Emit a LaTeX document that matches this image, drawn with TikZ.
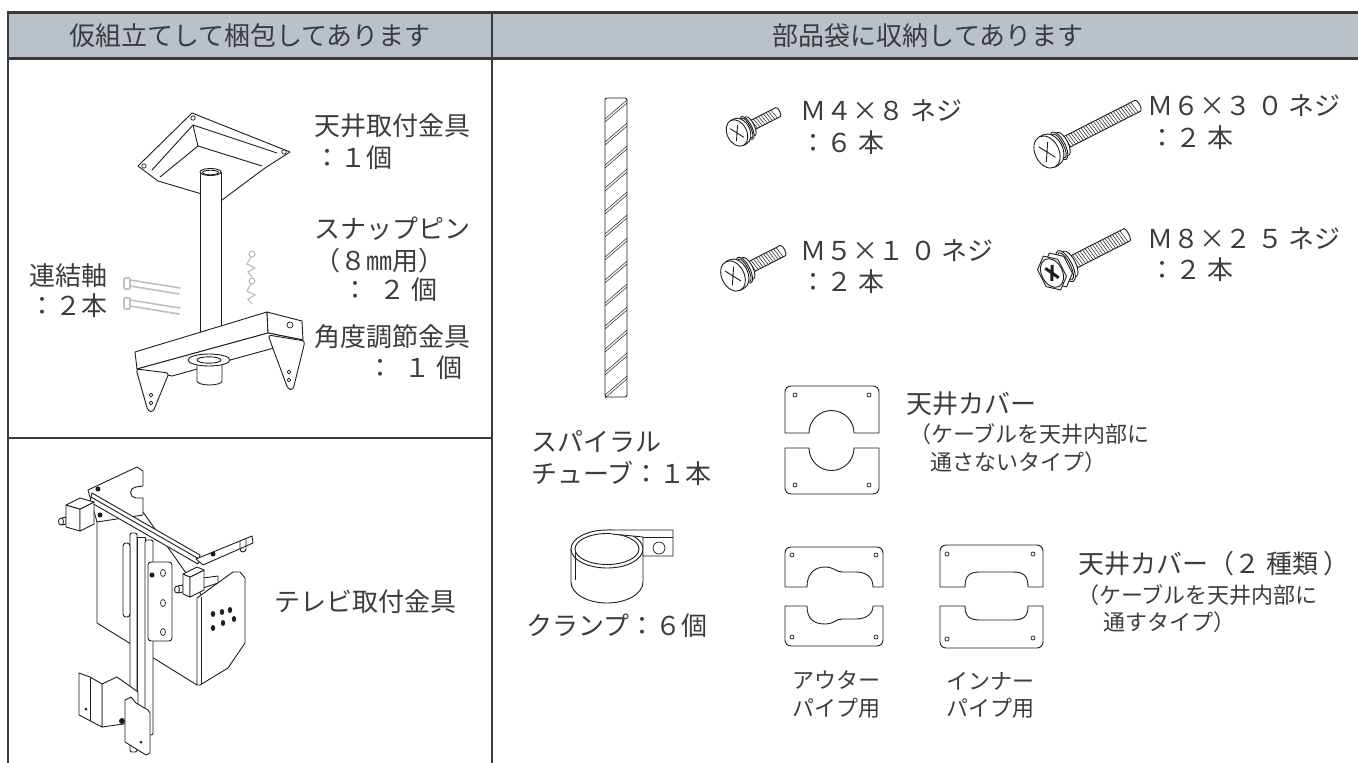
\documentclass[tikz,border=0pt]{standalone}
\usepackage{fontspec}
\setmainfont{Noto Sans CJK JP}
\definecolor{headfill}{HTML}{B9C1CA}
\definecolor{rulegray}{HTML}{3A3A3A}
\definecolor{ink}{HTML}{3C3C3C}
\definecolor{linework}{HTML}{1E1E1E}

% screw: x, y, head radius, length, type (0 = pan head, 1 = hex head)
\newcommand{\screwpic}[5]{%
  \begin{scope}[shift={(#1,#2)},rotate=27]
    \pgfmathsetmacro{\hr}{#3}
    \pgfmathsetmacro{\sw}{0.36*#3}
    \pgfmathsetmacro{\ss}{1.1*#3}
    \pgfmathtruncatemacro{\nt}{(#4-\ss)/2.8-1}
    \draw[part,fill=white] (\ss,-\sw) -- (#4,-\sw) arc[start angle=-90,end angle=90,x radius=2,y radius=\sw] -- (\ss,\sw) -- cycle;
    \foreach \k in {1,...,\nt} \draw[thread] ({\ss+\k*2.8},-\sw) -- ++(2.2,{2*\sw});
    \draw[part,fill=white] ({1.05*\hr},0) ellipse[x radius={0.3*\hr},y radius={0.75*\hr}];
    \draw[part,fill=white] ({0.8*\hr},0) ellipse[x radius={0.35*\hr},y radius={0.9*\hr}];
    \draw[part] ({0.8*\hr},0) ellipse[x radius={0.25*\hr},y radius={0.78*\hr}];
    \ifnum#5=0
      \draw[part,fill=white] (0,-\hr) -- ({0.25*\hr},-\hr) arc[start angle=-90,end angle=90,x radius={0.7*\hr},y radius=\hr] -- (0,\hr) -- cycle;
      \draw[part,fill=white] (0,0) ellipse[x radius={0.7*\hr},y radius=\hr];
      \draw[part] ({-0.3*\hr},{-0.5*\hr}) -- ({0.3*\hr},{0.5*\hr}) ({-0.3*\hr},{0.5*\hr}) -- ({0.3*\hr},{-0.5*\hr});
    \else
      \foreach \hx in {0.35,0} {
        \draw[part,fill=white] ({(\hx+0.6)*\hr},{0.5*\hr}) -- ({\hx*\hr},\hr) -- ({(\hx-0.6)*\hr},{0.5*\hr}) -- ({(\hx-0.6)*\hr},{-0.5*\hr}) -- ({\hx*\hr},-\hr) -- ({(\hx+0.6)*\hr},{-0.5*\hr}) -- cycle;
      }
      \draw[part] (0,0) ellipse[x radius={0.55*\hr},y radius={0.8*\hr}];
      \draw[linework,line width=3pt] ({-0.2*\hr},{-0.38*\hr}) -- ({0.2*\hr},{0.38*\hr}) ({-0.2*\hr},{0.38*\hr}) -- ({0.2*\hr},{-0.38*\hr});
    \fi
  \end{scope}}

\begin{document}
\begin{tikzpicture}
  [x=1pt,y=-1pt,
   rule/.style={draw=rulegray,line width=2pt},
   headrule/.style={draw=rulegray,line width=3pt},
   head/.style={inner sep=0pt,text=ink,font=\fontsize{26}{30}\selectfont},
   lbl/.style={anchor=west,inner sep=0pt,text=ink,font=\fontsize{26}{30}\selectfont},
   note/.style={lbl,font=\fontsize{22}{26}\selectfont},
   part/.style={draw=linework,line width=0.9pt,line join=round},
   thread/.style={draw=linework,line width=0.5pt},
   faded/.style={draw=gray!50,line width=1.6pt,line cap=round},
   hole/.style={draw=linework,line width=0.7pt,fill=white}]
  \useasboundingbox (0,0) rectangle (1358,763);

  % table
  \fill[headfill] (8,12) rectangle (1358,58);
  \draw[headrule] (7,12) -- (1358,12);
  \draw[headrule] (7,58) -- (1358,58);
  \draw[rule] (8,12) -- (8,763);
  \draw[rule] (492,12) -- (492,763);
  \draw[rule] (8,438) -- (492,438);
  \node[head] (packed) at (250,36) {仮組立てして梱包してあります};
  \node[head] (bagged) at (928,36) {部品袋に収納してあります};

  % ceiling bracket
  \draw[part,fill=white] (192,113) -- (290,152) -- (265,168) -- (222,200) -- (158,181) -- (138,166) -- cycle;
  \draw[part] (152,170) -- (193,125) -- (277,153);
  \draw[part] (193,125) -- (198,146) -- (262,166);
  \draw[part] (198,146) -- (160,177);
  \foreach \p in {(193,118),(284,152),(144,166)} \draw[hole] \p circle[radius=2.2];
  \draw[part,fill=white] (200,172) -- (200,335) -- (221,335) -- (221,172);
  \draw[part,fill=white] (210.5,172) ellipse[x radius=10.5,y radius=3.5];
  \draw[part] (210.5,172.5) ellipse[x radius=8,y radius=2.3];
  % angle bracket
  \draw[part,fill=white] (135,352) -- (267,312) -- (268,333) -- (137,369) -- cycle;
  \draw[part,fill=white] (267,312) -- (302,321) -- (303,340) -- (268,333) -- cycle;
  \draw[part,fill=white] (137,369) -- (268,333) -- (303,340) -- (172,376) -- cycle;
  \draw[hole] (290,325) circle[radius=3];
  \draw[part,fill=white,rounded corners=3] (136,369) -- (169,373) -- (153,412) -- (148,411) -- cycle;
  \draw[part,fill=white,rounded corners=3] (268,335) -- (305,341) -- (293,390) -- (288,389) -- cycle;
  \foreach \p in {(151,395),(151,403),(289,372),(289,380)} \draw[hole] \p circle[radius=1.8];
  \draw[part,fill=white] (197,360) -- (197,381) arc[start angle=180,end angle=0,x radius=12.5,y radius=4] -- (222,360);
  \draw[part,fill=white] (209,360) ellipse[x radius=21,y radius=6];
  \draw[part] (209,360) ellipse[x radius=12,y radius=3.2];
  % pins and snap pins
  \foreach \dy in {0,20} {
    \draw[faded] (130,{280+\dy}) -- (180,{288+\dy});
    \draw[faded] (130,{286+\dy}) -- (179,{294+\dy});
    \draw[faded,rounded corners=1] (124,{278+\dy}) rectangle (130,{289+\dy});
  }
  \foreach \dy in {0,27} {
    \draw[faded,line width=1.2pt] (252,{254+\dy}) circle[radius=3];
    \draw[faded,line width=1.2pt] (251,{257+\dy}) -- (247,{264+\dy}) -- (255,{268+\dy}) -- (248,{272+\dy}) -- (252,{277+\dy});
  }
  \node[lbl] (mountlbl) at (314,126) {天井取付金具};
  \node[lbl] (mountqty) at (314,158) {：１個};
  \node[lbl] (snaplbl) at (314,229) {スナップピン};
  \node[lbl] (snapsize) at (314,261) {（８㎜用）};
  \node[lbl] (snapqty) at (342,290) {：\ \ ２ 個};
  \node[lbl] (anglelbl) at (314,337) {角度調節金具};
  \node[lbl] (angleqty) at (367,368) {：\ \ １ 個};
  \node[lbl] (shaftlbl) at (29,276) {連結軸};
  \node[lbl] (shaftqty) at (29,306) {：２本};

  % tv bracket
  \draw[part,fill=white] (97,512) -- (97,623) -- (197,685) -- (205,600) -- (143,512) -- cycle;
  \draw[part,fill=white] (88,490) -- (137,467) -- (143,471) -- (143,486) -- (136,487) arc[start angle=270,end angle=90,radius=5.5] -- (143,498) -- (143,515) -- (97,522) -- cycle;
  \draw[part,fill=white] (197,598) -- (233,572) -- (240,572) -- (245,578) -- (245,643) -- (228,668) -- (200,685) -- (197,685) -- cycle;
  \draw[part] (201,597) -- (201,684);
  \foreach \p in {(213,614),(222,612),(230,610),(213,628),(223,623),(234,619)} \fill[linework] \p ellipse[x radius=2.2,y radius=3];
  \draw[part,fill=white,rounded corners=2] (130,533) rectangle (137,752);
  \draw[part,fill=white] (137,537) rectangle (145,748);
  \draw[part,fill=white,rounded corners=2] (145,540) rectangle (153,735);
  \draw[part,fill=white,rounded corners=3] (123,543) rectangle (130,617);
  \draw[part,fill=white,rounded corners=3] (148,562) rectangle (172,641);
  \foreach \p in {(163,573),(163,603),(163,632)} \draw[hole] \p ellipse[x radius=2.5,y radius=3.5];
  \fill[linework] (152,575) circle[radius=2.5];
  \draw[part,fill=white] (92,493) -- (200,555) -- (198,564) -- (90,502) -- cycle;
  \draw[part] (91,497) -- (199,559);
  \draw[part,fill=white] (62,518) -- (66,517) -- (66,524) -- (62,525);
  \draw[part,fill=white] (61,521.5) ellipse[x radius=2.5,y radius=3.5];
  \draw[part,fill=white] (66,505) -- (80,509) -- (80,531) -- (66,527) -- cycle;
  \draw[part,fill=white] (80,509) -- (94,502) -- (94,524) -- (80,531) -- cycle;
  \draw[part,fill=white] (66,505) -- (80,498) -- (94,502) -- (80,509) -- cycle;
  \fill[linework] (98,489) circle[radius=2.5];
  \fill[linework] (100,515) circle[radius=2.5];
  \draw[part,fill=white] (196,559) -- (252,536) -- (253,543) -- (203,565) -- cycle;
  \draw[part] (240,541) -- (240,549) arc[start angle=180,end angle=0,radius=3] -- (246,539);
  \fill[linework] (213,554) circle[radius=2.5];
  \draw[part,fill=white] (203,578) -- (218,576) -- (218,583) -- (203,588);
  \draw[part,fill=white] (178,586) -- (183,585) -- (183,592) -- (178,593);
  \draw[part,fill=white] (177,589.5) ellipse[x radius=2.5,y radius=3.5];
  \draw[part,fill=white] (183,574) -- (190,577) -- (190,597) -- (183,594) -- cycle;
  \draw[part,fill=white] (190,577) -- (204,570) -- (204,590) -- (190,597) -- cycle;
  \draw[part,fill=white] (183,574) -- (197,567) -- (204,570) -- (190,577) -- cycle;
  \draw[part,fill=white] (102,684) -- (117,677) -- (138,692) -- (138,722) -- (102,727) -- cycle;
  \draw[part,fill=white] (79,673) -- (90,677) -- (102,684) -- (102,727) -- (79,715) -- cycle;
  \draw[part] (90,677) -- (90,721);
  \fill[linework] (86,709) circle[radius=1.5];
  \fill[linework] (122,721) circle[radius=3];
  \draw[part,fill=white] (125,700) -- (131,697) -- (136,703) -- (148,710) -- (150,713) -- (150,753) -- (146,755) -- (125,742) -- cycle;
  \fill[linework] (141,742) circle[radius=1.5];
  \node[lbl] (tvlbl) at (274,602) {テレビ取付金具};

  % spiral tube
  \draw[part,fill=white,rounded corners=2] (605,98) rectangle (627,397);
  \begin{scope}
    \clip (605,98) rectangle (627,397);
    \foreach \k in {0,...,12} {
      \draw[thread] (605,{98+23*\k+21}) -- (627,{98+23*\k+2});
      \draw[thread] (605,{98+23*\k+24}) -- (627,{98+23*\k+5});
    }
  \end{scope}
  \node[lbl] (spirallbl) at (531,441) {スパイラル};
  \node[lbl] (spiralqty) at (531,473) {チューブ：１本};

  % screws
  \screwpic{737}{133}{14}{46}{0}
  \screwpic{733}{276}{16}{56}{0}
  \screwpic{1047}{152}{17}{102}{0}
  \screwpic{1052}{273}{19}{84}{1}
  \node[lbl] (m4lbl) at (800,111) {Ｍ４×８ ネジ};
  \node[lbl] (m4qty) at (800,143) {：６ 本};
  \node[lbl] (m5lbl) at (800,251) {Ｍ５×１ ０ ネジ};
  \node[lbl] (m5qty) at (800,282) {：２ 本};
  \node[lbl] (m6lbl) at (1147,106) {Ｍ６×３ ０ ネジ};
  \node[lbl] (m6qty) at (1149,138) {：２ 本};
  \node[lbl] (m8lbl) at (1147,239) {Ｍ８×２ ５ ネジ};
  \node[lbl] (m8qty) at (1149,270) {：２ 本};

  % clamp
  \draw[part,fill=white] (643,549) arc[start angle=360,end angle=180,x radius=36,y radius=19] -- (571,582) arc[start angle=180,end angle=0,x radius=36,y radius=21] -- cycle;
  \draw[part] (571,549) arc[start angle=180,end angle=0,x radius=36,y radius=19];
  \draw[part] (575,549) arc[start angle=180,end angle=360,x radius=32,y radius=15.5];
  \draw[part] (575,549) arc[start angle=180,end angle=0,x radius=32,y radius=15.5];
  \draw[part] (575,551) -- (575,580);
  \draw[part,fill=white] (607,530) -- (673,530) -- (673,556) -- (643,556) -- (643,537) -- (612,534);
  \draw[part] (643,537) -- (673,537);
  \draw[hole] (659,548) circle[radius=6];
  \node[lbl] (clamplbl) at (526,626) {クランプ：６個};

  % ceiling cover
  \draw[part] (785,433) -- (785,392) arc[start angle=180,end angle=270,radius=6] -- (873,386) arc[start angle=270,end angle=360,radius=6] -- (879,433) -- (854,433) arc[start angle=360,end angle=180,radius=22.5] -- cycle;
  \draw[part] (785,448) -- (809,448) arc[start angle=180,end angle=0,radius=22.5] -- (879,448) -- (879,488) arc[start angle=0,end angle=90,radius=6] -- (791,494) arc[start angle=90,end angle=180,radius=6] -- cycle;
  \foreach \p in {(795,395),(869,395),(795,485),(869,485)} \draw[hole] \p circle[radius=2];
  \node[lbl] (coverlbl) at (906,404) {天井カバー};
  \node[note] (covernote) at (909,434) {（ケーブルを天井内部に};
  \node[note] (covernoteb) at (930,462) {通さないタイプ）};

  % outer pipe cover
  \draw[part] (785,587) -- (785,553) arc[start angle=180,end angle=270,radius=6] -- (877,547) arc[start angle=270,end angle=360,radius=6] -- (883,587) -- (873,587) .. controls (873,577) and (866,572) .. (856,572) -- (842,572) .. controls (836,572) and (834,567) .. (825,567) .. controls (814,567) and (807,574) .. (807,587) -- cycle;
  \draw[part] (785,606) -- (807,606) .. controls (807,619) and (814,624) .. (825,624) .. controls (834,624) and (836,619) .. (842,619) -- (856,619) .. controls (866,619) and (873,614) .. (873,606) -- (883,606) -- (883,640) arc[start angle=0,end angle=90,radius=6] -- (791,646) arc[start angle=90,end angle=180,radius=6] -- cycle;
  \foreach \p in {(792,555),(876,555),(792,637),(876,637)} \draw[hole] \p circle[radius=2];
  \node[note] (outerlbl) at (792,680) {アウター};
  \node[note] (outerpipe) at (792,708) {パイプ用};

  % inner pipe cover
  \draw[part] (940,587) -- (940,551) arc[start angle=180,end angle=270,radius=6] -- (1037,545) arc[start angle=270,end angle=360,radius=6] -- (1043,587) -- (1028,587) .. controls (1028,575) and (1023,572) .. (1013,572) -- (980,572) .. controls (970,572) and (965,575) .. (965,587) -- cycle;
  \draw[part] (940,606) -- (965,606) .. controls (965,617) and (970,620) .. (980,620) -- (1013,620) .. controls (1023,620) and (1028,617) .. (1028,606) -- (1043,606) -- (1043,642) arc[start angle=0,end angle=90,radius=6] -- (946,648) arc[start angle=90,end angle=180,radius=6] -- cycle;
  \foreach \p in {(947,554),(1033,554),(947,639),(1033,638)} \draw[hole] \p circle[radius=2];
  \node[note] (innerlbl) at (946,681) {インナー};
  \node[note] (innerpipe) at (946,708) {パイプ用};
  \node[lbl] (pipecoverlbl) at (1078,564) {天井カバー（２ 種類 ）};
  \node[note] (pipenote) at (1077,595) {（ケーブルを天井内部に};
  \node[note] (pipenoteb) at (1103,622) {通すタイプ）};
\end{tikzpicture}
\end{document}
